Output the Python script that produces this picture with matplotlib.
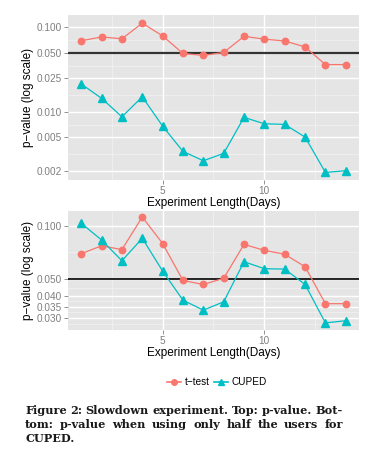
import matplotlib
matplotlib.use("Agg")
import matplotlib.pyplot as plt
from matplotlib.lines import Line2D
from matplotlib.ticker import FixedLocator, NullFormatter, FixedFormatter
import numpy as np

days = list(range(1, 15))
ttest = [0.0695, 0.077, 0.0733, 0.112, 0.0793, 0.0491, 0.0466, 0.0505,
         0.0784, 0.0726, 0.069, 0.0587, 0.0363, 0.0363]
cuped_top = [0.0214, 0.0145, 0.00877, 0.0151, 0.0068, 0.00342, 0.00265, 0.00324,
             0.00863, 0.00725, 0.00713, 0.00505, 0.00193, 0.00202]
cuped_half = [0.1032, 0.083, 0.0634, 0.0849, 0.0555, 0.038, 0.0334, 0.0372,
              0.0626, 0.0572, 0.0569, 0.0466, 0.0283, 0.0291]
top_breaks = [0.002, 0.005, 0.010, 0.025, 0.050, 0.100]
top_labels = ["0.002", "0.005", "0.010", "0.025", "0.050", "0.100"]
bot_breaks = [0.030, 0.035, 0.040, 0.050, 0.100]
bot_labels = ["0.030", "0.035", "0.040", "0.050", "0.100"]
x_breaks = [5, 10]
threshold = 0.05
series_names = ["t\u2212test", "CUPED"]
ylabel = "p\u2212value (log scale)"
xlabel = "Experiment Length(Days)"
caption_lines = ["Figure 2: Slowdown experiment. Top: p-value. Bot-",
                 "tom: p-value when using only half the users for",
                 "CUPED."]

RED = "#F8766D"
TEAL = "#00BFC4"
BG = "#E5E5E5"
MINOR = "#F2F2F2"
TXT = "#7F7F7F"
SANS = ["Liberation Sans", "DejaVu Sans"]

W, H = 392, 457
fig = plt.figure(figsize=(W / 100, H / 100), dpi=100)


def ax_rect(left, top, right, bottom):
    return [left / W, 1 - bottom / H, (right - left) / W, (bottom - top) / H]


def style(ax, breaks, labels, ylim):
    ax.set_facecolor(BG)
    ax.set_yscale("log")
    ax.set_ylim(*ylim)
    ax.set_xlim(0.35, 14.65)
    for s in ax.spines.values():
        s.set_visible(False)
    lb = np.log10(breaks)
    lo, hi = np.log10(ylim)
    mids = [(a + b) / 2 for a, b in zip(lb[:-1], lb[1:])]
    mids += [lb[-1] + (lb[-1] - lb[-2]) / 2, lb[0] - (lb[1] - lb[0]) / 2]
    for m in mids:
        if lo < m < hi:
            ax.axhline(10 ** m, color=MINOR, lw=0.5, zorder=0.5)
    for xm in [2.5, 7.5, 12.5]:
        ax.axvline(xm, color=MINOR, lw=0.5, zorder=0.5)
    for b in breaks:
        ax.axhline(b, color="white", lw=1.0, zorder=0.6)
    for xb in x_breaks:
        ax.axvline(xb, color="white", lw=1.0, zorder=0.6)
    ax.yaxis.set_major_locator(FixedLocator(breaks))
    ax.yaxis.set_major_formatter(FixedFormatter(labels))
    ax.yaxis.set_minor_locator(FixedLocator([]))
    ax.yaxis.set_minor_formatter(NullFormatter())
    ax.set_xticks(x_breaks)
    ax.set_xticklabels([str(v) for v in x_breaks])
    ax.tick_params(axis="both", which="major", length=3, width=0.6, color=TXT,
                   labelcolor=TXT, labelsize=7.2, pad=1.5)
    for lab in ax.get_xticklabels() + ax.get_yticklabels():
        lab.set_family(SANS)
    ax.set_xlabel(xlabel, fontsize=8.5, family=SANS, labelpad=0.5)
    ax.set_ylabel(ylabel, fontsize=8.5, family=SANS, labelpad=1.5)


ax1 = fig.add_axes(ax_rect(68, 15, 359, 180))
style(ax1, top_breaks, top_labels, (0.00157, 0.14))
ax1.axhline(threshold, color="#333333", lw=1.6, zorder=2)
ax1.plot(days, ttest, color=RED, marker="o", ms=4.6, lw=0.9, zorder=3)
ax1.plot(days, cuped_top, color=TEAL, marker="^", ms=5.2, lw=0.9, zorder=3)

ax2 = fig.add_axes(ax_rect(68, 211, 359, 330))
style(ax2, bot_breaks, bot_labels, (0.0258, 0.121))
ax2.axhline(threshold, color="black", lw=1.2, zorder=2)
ax2.plot(days, ttest, color=RED, marker="o", ms=4.6, lw=0.9, zorder=3)
ax2.plot(days, cuped_half, color=TEAL, marker="^", ms=5.2, lw=0.9, zorder=3)

handles = [Line2D([], [], color=RED, marker="o", ms=4, lw=1.2),
           Line2D([], [], color=TEAL, marker="^", ms=4.5, lw=1.2)]
leg = fig.legend(handles, series_names, loc="center", ncol=2,
                 bbox_to_anchor=(217 / W, 1 - 382 / H), frameon=False,
                 prop={"family": SANS, "size": 7.2}, handlelength=1.4,
                 handletextpad=0.3, columnspacing=0.5)

# justified caption; font size fitted so first-line words + 3px gaps fill the column
renderer = fig.canvas.get_renderer()
fam = ["DejaVu Serif"]
x0, x1 = 25, 343
w1 = caption_lines[0].split(" ")
probes = [fig.text(0, 0, w, family=fam, size=10, fontweight="bold") for w in w1]
tot = sum(p.get_window_extent(renderer).width for p in probes)
for p in probes:
    p.remove()
cap_size = 10 * (x1 - x0 - 3.5 * (len(w1) - 1)) / tot
ys = [410, 424, 438]
cap_font = dict(family=fam, size=cap_size, color="#1a1a1a", fontweight="bold")
for i, (line, yy) in enumerate(zip(caption_lines, ys)):
    words = line.split(" ")
    texts = [fig.text(0, 1 - yy / H, w, va="center", ha="left", **cap_font)
             for w in words]
    widths = [t.get_window_extent(renderer).width for t in texts]
    if i == len(caption_lines) - 1:
        gap = 3.5
    else:
        gap = (x1 - x0 - sum(widths)) / (len(words) - 1)
    x = x0
    for t, w in zip(texts, widths):
        t.set_x(x / W)
        x += w + gap

fig.savefig("out.png", dpi=100)
